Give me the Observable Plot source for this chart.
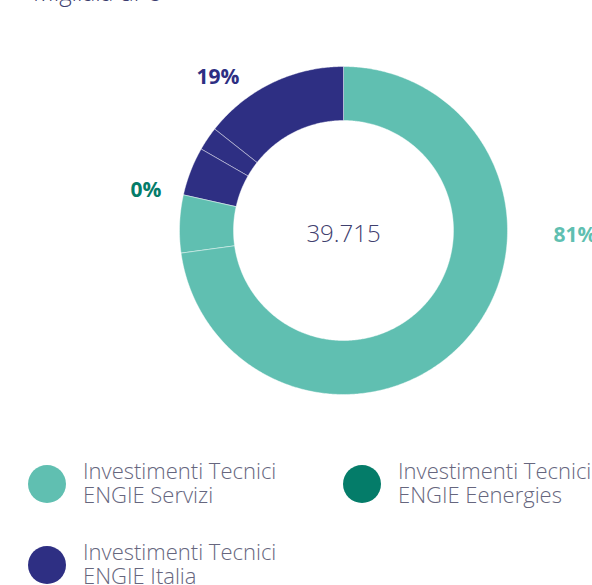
<!DOCTYPE html>
<html>
<head>
<meta charset="utf-8">
<script src="https://cdn.jsdelivr.net/npm/d3@7"></script>
<script src="https://cdn.jsdelivr.net/npm/@observablehq/plot@0.6"></script>
<style>
  html, body { margin: 0; padding: 0; background: #fff; }
  body { width: 592px; height: 585px; overflow: hidden; position: relative; font-family: "Open Sans", sans-serif; }
  #title { position: absolute; z-index: 2; left: 33px; top: -20px; font-size: 24px; line-height: 24px; font-weight: 300; color: #3c3d6e; white-space: nowrap; }
  #chart { position: absolute; left: 0; top: 0; z-index: 1; }
  .item { position: absolute; display: flex; align-items: center; }
  .dot { width: 38px; height: 38px; border-radius: 50%; flex: none; }
  .lbl { margin-left: 17px; margin-top: -4px; font-size: 22px; line-height: 24px; font-weight: 300; color: #66667e; white-space: nowrap; }
</style>
</head>
<body>
<div id="title">Migliaia di €</div>
<div id="chart"></div>
<div id="legend"></div>
<script>
// ---- data ----
const categories = ["ENGIE Servizi", "ENGIE Eenergies", "ENGIE Italia"];
const legendPrefix = "Investimenti Tecnici";
const colors = ["#60bfb1", "#047c69", "#2e2f83"];
const percentLabels = ["81%", "0%", "19%"];
const totalLabel = "39.715";
// slices clockwise from 12 o'clock (thousands of €), with their category index
const sliceCategory = [0, 0, 1, 2, 2, 2];
const sliceValues = [28.93, 2.26, 0, 1.90, 0.93, 5.70];

// ---- build geometry in unit coordinates ----
const innerRatio = 110 / 164;
const total = d3.sum(sliceValues);
let acc = 0;
const slices = sliceValues.map((v, i) => {
  const a0 = acc / total * 2 * Math.PI; acc += v; const a1 = acc / total * 2 * Math.PI;
  return {cat: sliceCategory[i], value: v, a0, a1};
});
function ring(a0, a1) {
  const n = Math.max(2, Math.ceil((a1 - a0) / 0.01));
  const pts = [];
  for (let k = 0; k <= n; k++) { const a = a0 + (a1 - a0) * k / n; pts.push([Math.sin(a), -Math.cos(a)]); }
  for (let k = n; k >= 0; k--) { const a = a0 + (a1 - a0) * k / n; pts.push([innerRatio * Math.sin(a), -innerRatio * Math.cos(a)]); }
  pts.push(pts[0]);
  return pts;
}
const features = slices.filter(s => s.value > 0).map(s => ({
  type: "Feature", properties: {cat: s.cat},
  geometry: {type: "Polygon", coordinates: [ring(s.a0, s.a1)]}
}));

// label positions per category
const catRange = categories.map((c, ci) => {
  const ss = slices.filter(s => s.cat === ci);
  return [d3.min(ss, s => s.a0), d3.max(ss, s => s.a1)];
});
const labels = categories.map((c, ci) => {
  let a = (catRange[ci][0] + catRange[ci][1]) / 2, rr = 1.225, anchor = "middle";
  if (ci === 0) { a = Math.PI / 2 + 0.005; rr = 1.28; anchor = "start"; }
  if (ci === 1) { rr = 1.235; }
  return {x: rr * Math.sin(a), y: -rr * Math.cos(a), text: percentLabels[ci], fill: colors[ci], anchor};
});

const chart = Plot.plot({
  width: 592,
  height: 430,
  marginLeft: 179,
  marginRight: 85,
  marginTop: 66,
  marginBottom: 36,
  projection: {type: "identity", clip: false, domain: {type: "MultiPoint", coordinates: [[-1, -1], [1, 1]]}},
  style: {fontFamily: "'Open Sans', sans-serif", background: "transparent", overflow: "visible"},
  marks: [
    Plot.geo(features, {fill: d => colors[d.properties.cat], stroke: "#ffffff", strokeWidth: 0.6, strokeOpacity: 0.7}),
    Plot.text(labels.filter(d => d.anchor === "middle"), {x: "x", y: "y", text: "text", fill: "fill", fontSize: 21, fontWeight: 700, textAnchor: "middle", dy: 4, clip: false}),
    Plot.text(labels.filter(d => d.anchor === "start"), {x: "x", y: "y", text: "text", fill: "fill", fontSize: 21, fontWeight: 700, textAnchor: "start", dy: 4, clip: false}),
    Plot.text([{x: 0, y: 0}], {x: "x", y: "y", text: () => totalLabel, fill: "#3f406e", fontSize: 24, fontWeight: 300, dy: 4, clip: false})
  ]
});
document.getElementById("chart").appendChild(chart);

// legend
const legendPos = [[28, 484], [343, 484], [28, 565]];
const legend = document.getElementById("legend");
categories.forEach((c, i) => {
  const it = document.createElement("div");
  it.className = "item";
  it.style.left = legendPos[i][0] + "px";
  it.style.top = (legendPos[i][1] - 24) + "px";
  it.style.height = "48px";
  const dot = document.createElement("div");
  dot.className = "dot"; dot.style.background = colors[i];
  const lbl = document.createElement("div");
  lbl.className = "lbl";
  lbl.innerHTML = legendPrefix + "<br>" + c;
  it.appendChild(dot); it.appendChild(lbl);
  legend.appendChild(it);
});
</script>
</body>
</html>
